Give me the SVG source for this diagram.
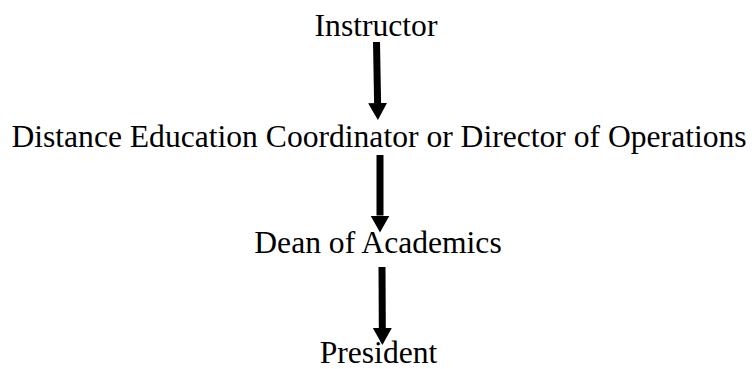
<svg xmlns="http://www.w3.org/2000/svg" width="756" height="369" viewBox="0 0 756 369">
<style>
text{font-family:"Liberation Serif","Times New Roman",serif;font-size:31.6px;fill:#000;text-anchor:middle}
.c{stroke:#000;stroke-width:7;fill:none}
</style>
<defs>
<marker id="ah" viewBox="0 -10 17 20" refX="0" refY="0" markerWidth="17" markerHeight="20" markerUnits="userSpaceOnUse" orient="auto">
<path d="M0,-9.5 L17,0 L0,9.5 Z" fill="#000"/>
</marker>
</defs>
<rect width="756" height="369" fill="#fff"/>
<g id="connectors">
<line class="c" x1="376.5" y1="42" x2="377.6" y2="103" marker-end="url(#ah)"/>
<line class="c" x1="380" y1="155" x2="380" y2="215.5" marker-end="url(#ah)"/>
<line class="c" x1="382" y1="267" x2="382.3" y2="328" marker-end="url(#ah)"/>
</g>
<g id="instructor"><text x="376" y="36">Instructor</text></g>
<g id="coordinator"><text x="379" y="147">Distance Education Coordinator or Director of Operations</text></g>
<g id="dean"><text x="378" y="253">Dean of Academics</text></g>
<g id="president"><text x="378.5" y="363">President</text></g>
</svg>
